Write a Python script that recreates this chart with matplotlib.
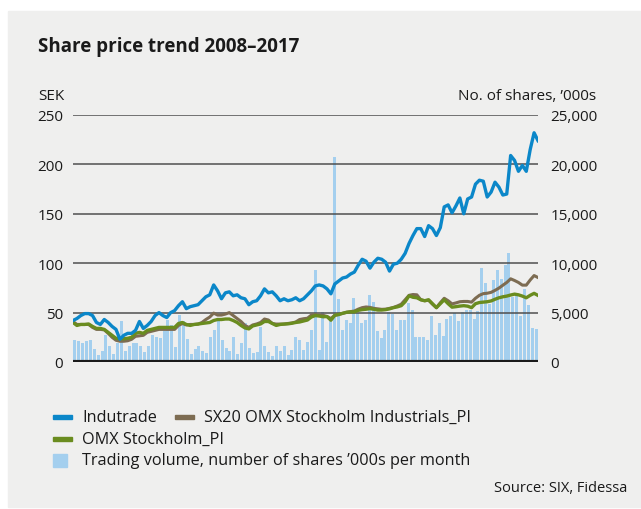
import numpy as np
import matplotlib.pyplot as plt
from matplotlib.patches import Rectangle

plt.rcParams['font.family'] = ['Open Sans', 'DejaVu Sans']

# Monthly values Jan 2008 - Dec 2017
indutrade = [42, 44, 47, 49, 49, 47, 40, 38, 43, 40, 36, 33,
             23, 27, 29, 29, 32, 41, 34, 37, 41, 47, 50, 47,
             45, 50, 52, 57, 61, 54, 56, 57, 58, 62, 66, 68,
             78, 72, 64, 70, 71, 67, 68, 65, 64, 58, 61, 62,
             67, 74, 70, 71, 67, 62, 64, 62, 63, 65, 62, 64,
             68, 72, 77, 78, 77, 74, 69, 79, 82, 85, 86, 89,
             91, 98, 104, 102, 95, 101, 105, 104, 101, 92, 99, 100,
             104, 110, 120, 128, 135, 135, 127, 138, 135, 128, 136, 157,
             159, 151, 158, 166, 150, 165, 167, 180, 184, 183, 167, 172,
             182, 177, 169, 170, 209, 204, 193, 199, 193, 215, 232, 224]

sx20 = [41, 38, 38, 38, 38, 35, 33, 33, 32.5, 29, 25, 22,
        21, 21, 21.5, 23, 26, 26.5, 27, 30, 31, 32, 33, 33,
        33, 33, 33, 37, 39, 37.5, 38, 38, 38.4, 40, 43, 45.5,
        49.5, 47.5, 47.5, 48.5, 50, 47, 44, 41, 37, 35, 37.5, 38.5,
        40, 43.5, 42.5, 39, 38.4, 38.4, 38.4, 39, 39.5, 40.5, 43, 43.8,
        44.3, 47.5, 48, 47.3, 47.3, 46, 44, 47.3, 48.3, 49.2, 50.3, 51,
        51.6, 53.5, 55, 55.7, 55.3, 54.3, 53.8, 53.3, 53.5, 54.3, 55.2, 56.7,
        58.5, 63, 67.5, 68.3, 68, 63, 62, 62.5, 58.5, 55, 60, 64.5,
        62, 58.8, 59.8, 61, 61.3, 61.3, 60.6, 64.5, 67.5, 69.2, 69.6, 70.5,
        72.5, 74.8, 77.7, 80.5, 84.2, 82.5, 80.5, 77.8, 77.8, 83, 87.5, 85.5]

omx = [40, 37, 38, 38, 38.5, 36, 34, 34, 33, 30, 27, 24,
       23.5, 23.5, 24, 25, 29, 30, 29, 32, 33, 34, 35, 35,
       35, 35, 35, 39, 40, 38, 37, 38, 38.4, 39, 39.5, 40,
       42, 43, 43, 43.5, 43.5, 42, 40, 37, 34.5, 33.5, 36.5, 37.5,
       38.5, 41, 41, 39, 37, 38, 38.4, 38.6, 39.2, 40, 40.5, 41.5,
       42.5, 45.5, 47, 46.5, 45.8, 46, 42.3, 47.3, 48, 49.3, 50.3, 50.7,
       50.7, 52.3, 53, 53.4, 54, 53.3, 52.6, 52.6, 53, 53.8, 55, 55.8,
       57, 61, 67, 65.5, 65, 63, 62, 63, 59, 55, 59, 63,
       59, 55.5, 56, 56.6, 57, 56.5, 55, 59, 60.2, 60.6, 61, 61.8,
       63.5, 65, 66, 66.7, 67.8, 68.7, 68, 66.7, 65, 67.5, 69.5, 67.4]

# trading volume, '000s shares per month
volume = [2270, 2170, 1970, 2170, 2270, 1360, 660, 1160, 2780, 1670, 760, 1970,
          4190, 1160, 1570, 1970, 1970, 1570, 1060, 1570, 2780, 2570, 2470, 3170,
          4290, 3790, 1470, 4790, 4190, 2370, 760, 1360, 1570, 1160, 960, 2580,
          3280, 4190, 2270, 1460, 1160, 2580, 760, 1970, 3990, 1460, 960, 1060,
          3590, 1670, 1060, 560, 1670, 1160, 1670, 660, 1260, 2580, 2270, 1180,
          2000, 3250, 9340, 1180, 5110, 2060, 4270, 20760, 6330, 3200, 4270, 3970,
          6480, 4980, 3970, 4230, 6790, 6080, 3120, 2420, 3250, 5110, 4840, 3200,
          4230, 4230, 5970, 5250, 2490, 2490, 2490, 2220, 4660, 2770, 3980, 2660,
          4360, 4660, 5000, 4110, 5100, 5300, 5300, 4360, 5200, 9490, 7960, 5880,
          8320, 9330, 8430, 9840, 10990, 6570, 6740, 4660, 7410, 5790, 3440, 3340]

year_labels = ['2009', '2011', '2013', '2015', '2017']
sek_ticks = [0, 50, 100, 150, 200, 250]
share_ticks = [0, 5000, 10000, 15000, 20000, 25000]

c_blue = '#0b87c9'
c_brown = '#7d6c52'
c_green = '#6a8c1f'
c_bar = '#a4cfee'
bg = '#efefee'
txt = '#1a1a1a'

fig = plt.figure(figsize=(6.41, 5.10), dpi=100)
fig.patch.set_facecolor('white')
fig.patches.append(Rectangle((8 / 641, 2 / 510), 1, 496 / 510,
                             transform=fig.transFigure, color=bg, zorder=-10))

ax_vol = fig.add_axes([73 / 641, 147 / 510, 465 / 641, 247 / 510])
ax = ax_vol.twinx()
ax_vol.set_zorder(1)
ax.set_zorder(2)
ax.patch.set_visible(False)
ax_vol.patch.set_visible(False)

n = len(indutrade)
months = np.arange(n)
line_x = np.linspace(-0.5, n - 0.5, n)

ax_vol.bar(months, volume, width=0.78, color=c_bar, zorder=1)
ax_vol.set_ylim(0, 25000)
ax_vol.set_xlim(-0.5, n - 0.5)

# gridlines and price lines on the SEK axis
for v in sek_ticks[1:]:
    ax.axhline(v, color='#4f4f4f', lw=1.1, zorder=1)
ax.axhline(0, color=txt, lw=3, zorder=4)
ax.plot(line_x, sx20, color=c_brown, lw=2.2, zorder=2, solid_joinstyle='round')
ax.plot(line_x, omx, color=c_green, lw=2.4, zorder=2.5, solid_joinstyle='round')
ax.plot(line_x, indutrade, color=c_blue, lw=2.4, zorder=3, solid_joinstyle='round')
ax.set_ylim(0, 250)
ax.set_xlim(-0.5, n - 0.5)

# SEK on the left, shares on the right
ax.yaxis.set_ticks_position('left')
ax.set_yticks(sek_ticks)
ax.set_yticklabels([str(v) for v in sek_ticks])
ax_vol.yaxis.set_ticks_position('right')
ax_vol.set_yticks(share_ticks)
ax_vol.set_yticklabels([f'{v:,}' for v in share_ticks])
for a in (ax, ax_vol):
    for s in a.spines.values():
        s.set_visible(False)
    a.tick_params(length=0, labelsize=11, colors=txt)
ax.tick_params(axis='y', pad=7)
ax_vol.tick_params(axis='y', pad=9)

ax_vol.set_xticks([(int(y) - 2008) * 12 + 5.5 for y in year_labels])
ax_vol.set_xticklabels(year_labels, fontweight='bold', fontsize=11)
ax_vol.tick_params(axis='x', pad=5)
ax.set_xticks([])

fig.text(38 / 641, 1 - 47 / 510, 'Share price trend 2008\u20132017', fontsize=13.5,
         fontweight='bold', va='center', ha='left', color=txt)
fig.text(38 / 641, 1 - 97 / 510, 'SEK', fontsize=11, va='center', ha='left', color=txt)
fig.text(596 / 641, 1 - 97 / 510, 'No. of shares, \u2019000s', fontsize=11,
         va='center', ha='right', color=txt)

# legend drawn by hand
def leg_item(x, y, color, label, square=False):
    if square:
        fig.patches.append(Rectangle((x / 641, 1 - (y + 6.5) / 510), 14 / 641, 13 / 510,
                                     transform=fig.transFigure, color=color))
    else:
        fig.patches.append(Rectangle((x / 641, 1 - (y + 2) / 510), 19 / 641, 4 / 510,
                                     transform=fig.transFigure, color=color))
    fig.text((x + 29) / 641, 1 - y / 510, label, fontsize=11.7, va='center', ha='left',
             color=txt)

leg_item(53, 418, c_blue, 'Indutrade')
leg_item(175, 418, c_brown, 'SX20 OMX Stockholm Industrials_PI')
leg_item(53, 440, c_green, 'OMX Stockholm_PI')
leg_item(53, 461, c_bar, 'Trading volume, number of shares \u2019000s per month', square=True)

fig.text(627 / 641, 1 - 489 / 510, 'Source: SIX, Fidessa', fontsize=10.5, va='center',
         ha='right', color=txt)

fig.savefig('out.png', dpi=100)
